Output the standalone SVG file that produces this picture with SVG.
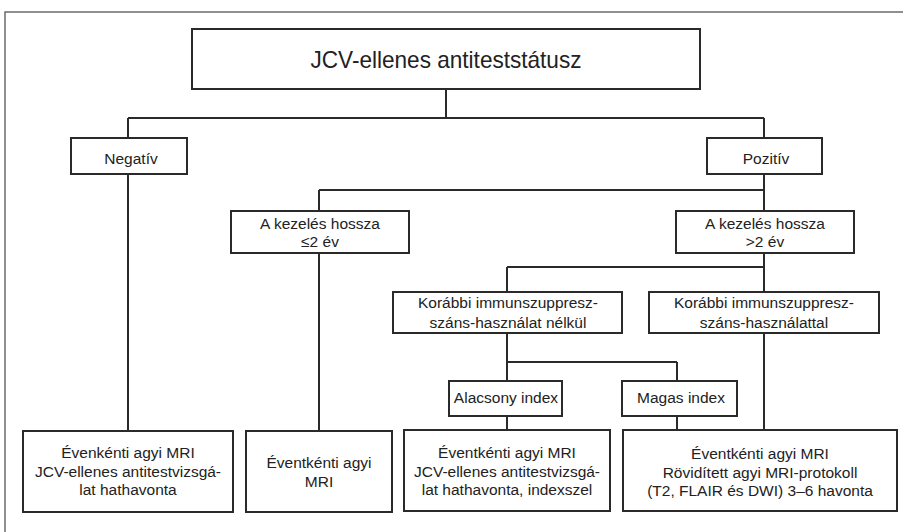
<svg xmlns="http://www.w3.org/2000/svg" width="903" height="532" viewBox="0 0 903 532">
<style>
.box{fill:#fff;stroke:#2a2a2a;stroke-width:2}
.con{fill:none;stroke:#2a2a2a;stroke-width:2}
.frame{fill:none;stroke:#555;stroke-width:1.3}
text{font-family:"Liberation Sans",Arial,sans-serif;font-size:15.5px;fill:#222;text-anchor:middle}
.title{font-size:24px}
</style>
<rect width="903" height="532" fill="#fff"/>
<rect class="frame" x="5" y="12" width="960" height="600"/>
<g id="connectors">
<path class="con" d="M446,89V118M128,118H764M128,118V138M764,118V138M128,174V431M764,174V211M319,190H764M319,190V211M319,253V431M764,253V292M507,267H764M507,267V292M507,333V381M507,362H677M677,362V381M764,333V430M507,416V430M677,416V430"/>
</g>
<g id="title"><rect class="box" x="192" y="29" width="508" height="60"/><text class="title" x="446" y="68" textLength="271" lengthAdjust="spacingAndGlyphs">JCV-ellenes antiteststátusz</text></g>
<g id="negativ"><rect class="box" x="71" y="138" width="116" height="36"/><text x="131" y="164">Negatív</text></g>
<g id="pozitiv"><rect class="box" x="707" y="138" width="115" height="36"/><text x="766" y="164">Pozitív</text></g>
<g id="le2"><rect class="box" x="231" y="211" width="178" height="42"/><text x="320" y="229">A kezelés hossza</text><text x="320" y="247">≤2 év</text></g>
<g id="gt2"><rect class="box" x="676" y="211" width="178" height="42"/><text x="765" y="229">A kezelés hossza</text><text x="765" y="247">&gt;2 év</text></g>
<g id="kor1"><rect class="box" x="393" y="292" width="229" height="41"/><text x="508" y="308">Korábbi immunszuppresz-</text><text x="508" y="328">száns-használat nélkül</text></g>
<g id="kor2"><rect class="box" x="649" y="292" width="230" height="41"/><text x="764" y="308">Korábbi immunszuppresz-</text><text x="764" y="328">száns-használattal</text></g>
<g id="alacsony"><rect class="box" x="449" y="381" width="113" height="35"/><text x="506" y="403">Alacsony index</text></g>
<g id="magas"><rect class="box" x="622" y="381" width="115" height="35"/><text x="681" y="403">Magas index</text></g>
<g id="f1"><rect class="box" x="23" y="431" width="210" height="81"/><text x="128" y="458">Évenkénti agyi MRI</text><text x="128" y="477">JCV-ellenes antitestvizsgá-</text><text x="128" y="495">lat hathavonta</text></g>
<g id="f2"><rect class="box" x="246" y="431" width="146" height="81"/><text x="319" y="468">Éventkénti agyi</text><text x="319" y="487">MRI</text></g>
<g id="f3"><rect class="box" x="404" y="430" width="206" height="81"/><text x="507" y="458">Éventkénti agyi MRI</text><text x="507" y="477">JCV-ellenes antitestvizsgá-</text><text x="507" y="495">lat hathavonta, indexszel</text></g>
<g id="f4"><rect class="box" x="623" y="430" width="274" height="81"/><text x="760" y="459">Éventkénti agyi MRI</text><text x="760" y="478">Rövidített agyi MRI-protokoll</text><text x="760" y="496">(T2, FLAIR és DWI) 3–6 havonta</text></g>
</svg>
